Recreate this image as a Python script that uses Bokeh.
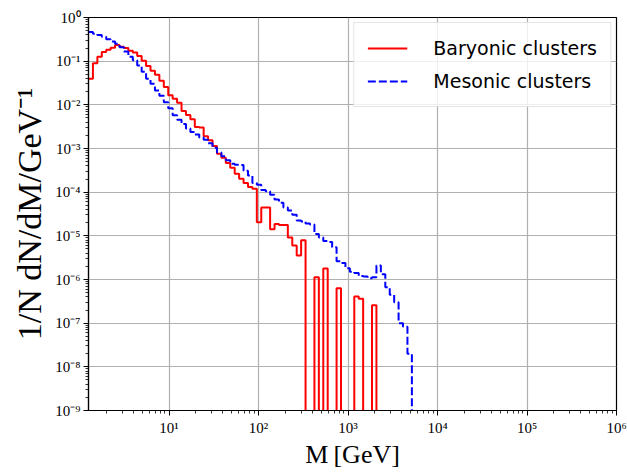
import numpy as np
from bokeh.plotting import figure
from bokeh.models import (Range1d, FixedTicker, CustomJSTickFormatter, Legend, LegendItem)
from bokeh.embed import file_html
from bokeh.resources import INLINE

# ---- histogram binning (log-spaced bins) ----
log_first_edge = 0.1      # log10 of first bin edge [GeV]
log_bin_width = 0.0495    # bin width in log10(M)

# ---- log10(1/N dN/dM) per bin; None = empty bin ----
baryonic_log10 = [
    -1.40, -1.05, -0.90, -0.79, -0.74, -0.69, -0.63, -0.67, -0.70, -0.76,
    -0.80, -0.88, -0.99, -1.11, -1.22, -1.31, -1.45, -1.59, -1.78, -1.86,
    -1.95, -2.14, -2.23, -2.33, -2.51, -2.52, -2.72, -2.81, -2.94, -3.12,
    -3.21, -3.33, -3.44, -3.58, -3.69, -3.79, -3.88, -3.92, -4.69, -4.35,
    -4.35, -4.85, -4.73, -4.75, -4.75, -5.04, -5.22, -5.45, -5.10, None,
    None, -5.95, None, -5.75, None, None, -6.20, None, None, None,
    -6.39, -6.44, None, None, -6.59,
]
mesonic_log10 = [
    -0.33, -0.37, -0.40, -0.44, -0.50, -0.55, -0.60, -0.68, -0.78, -0.90,
    -0.98, -1.10, -1.24, -1.40, -1.52, -1.67, -1.79, -1.94, -2.08, -2.24,
    -2.34, -2.44, -2.54, -2.62, -2.68, -2.75, -2.80, -2.88, -2.98, -3.09,
    -3.18, -3.27, -3.35, -3.37, -3.38, -3.51, -3.62, -3.79, -3.83, -3.95,
    -3.98, -4.06, -4.17, -4.24, -4.35, -4.42, -4.52, -4.65, -4.67, -4.72,
    -4.74, -4.96, -5.04, -5.12, -5.14, -5.26, -5.58, -5.62, -5.74, -5.82,
    -5.85, -5.92, -5.93, -5.97, -5.95, -5.68, -5.88, -6.18, -6.35, -6.52,
    -7.00, -7.08, -7.70,
]
series_labels = ["Baryonic clusters", "Mesonic clusters"]

# ---- axes ----
x_limits = (10 ** 0.1, 1e6)
y_limits = (1e-9, 1e0)
x_tick_exponents = [1, 2, 3, 4, 5, 6]
x_tick_labels = ["10\u00b9", "10\u00b2", "10\u00b3", "10\u2074", "10\u2075", "10\u2076"]
y_tick_exponents = [-9, -8, -7, -6, -5, -4, -3, -2, -1, 0]
y_tick_labels = ["10\u207b\u2079", "10\u207b\u2078", "10\u207b\u2077", "10\u207b\u2076",
                 "10\u207b\u2075", "10\u207b\u2074", "10\u207b\u00b3", "10\u207b\u00b2",
                 "10\u207b\u00b9", "10\u2070"]
x_label = "M\u2009[GeV]"
y_label = "1/N dN/dM/GeV\u207b\u00b9"

FLOOR = 1e-14  # where empty bins are drawn (below the visible range)


def step_outline(log_vals):
    n = len(log_vals)
    edges = 10 ** (log_first_edge + log_bin_width * np.arange(n + 1))
    vals = [FLOOR if v is None else 10 ** v for v in log_vals]
    xs, ys = [], []
    for i in range(n):
        xs += [float(edges[i]), float(edges[i + 1])]
        ys += [vals[i], vals[i]]
    xs.append(float(edges[n]))
    ys.append(FLOOR)
    return xs, ys


p = figure(width=627, height=472, x_axis_type="log", y_axis_type="log",
           x_range=Range1d(*x_limits), y_range=Range1d(*y_limits),
           output_backend="svg", toolbar_location=None,
           min_border_left=88, min_border_right=11, min_border_top=17, min_border_bottom=62)
p.background_fill_color = "white"
p.border_fill_color = "white"
p.outline_line_color = "black"
p.outline_line_width = 1.2
p.outline_line_alpha = 1.0

bx, by = step_outline(baryonic_log10)
mx, my = step_outline(mesonic_log10)
r_bar = p.line(bx, by, line_color="#ff0000", line_width=2.0)
r_mes = p.line(mx, my, line_color="#0000ff", line_width=2.0, line_dash="8 3")

# ticks
x_major = [10.0 ** e for e in x_tick_exponents]
x_minor = [m * 10.0 ** e for e in range(0, 6) for m in range(2, 10)]
y_major = [10.0 ** e for e in y_tick_exponents]
y_minor = [m * 10.0 ** e for e in range(-9, 0) for m in range(2, 10)]
p.xaxis.ticker = FixedTicker(ticks=x_major, minor_ticks=x_minor)
p.yaxis.ticker = FixedTicker(ticks=y_major, minor_ticks=y_minor)
p.xgrid.ticker = FixedTicker(ticks=x_major)
p.ygrid.ticker = FixedTicker(ticks=y_major)

fmt_code = """
let best = 0, bd = Infinity;
for (let i = 0; i < tick_vals.length; i++) {
  const d = Math.abs(Math.log10(tick) - Math.log10(tick_vals[i]));
  if (d < bd) { bd = d; best = i; }
}
return tick_text[best];
"""
p.xaxis.formatter = CustomJSTickFormatter(args=dict(tick_vals=x_major, tick_text=x_tick_labels), code=fmt_code)
p.yaxis.formatter = CustomJSTickFormatter(args=dict(tick_vals=y_major, tick_text=y_tick_labels), code=fmt_code)

for ax in (p.xaxis[0], p.yaxis[0]):
    ax.axis_line_color = "black"
    ax.axis_line_width = 1.2
    ax.major_tick_in = 0
    ax.major_tick_out = 5
    ax.minor_tick_in = 0
    ax.minor_tick_out = 3
    ax.major_tick_line_color = "black"
    ax.minor_tick_line_color = "black"
    ax.major_tick_line_width = 1
    ax.minor_tick_line_width = 0.8
    ax.major_label_text_font = "Liberation Serif"
    ax.major_label_text_font_size = "15px"
    ax.major_label_text_color = "black"
    ax.axis_label_text_font = "Liberation Serif"
    ax.axis_label_text_font_style = "normal"
    ax.axis_label_text_color = "black"

p.xaxis.axis_label = x_label
p.yaxis.axis_label = y_label
p.xaxis.axis_label_text_font_size = "26px"
p.yaxis.axis_label_text_font_size = "34px"
p.xaxis.major_label_standoff = 4
p.yaxis.major_label_standoff = 3
p.xaxis.axis_label_standoff = 1
p.yaxis.axis_label_standoff = 4

p.grid.grid_line_color = "#b0b0b0"
p.grid.grid_line_width = 1.2

legend = Legend(items=[LegendItem(label=series_labels[0], renderers=[r_bar]),
                       LegendItem(label=series_labels[1], renderers=[r_mes])],
                location="top_right")
legend.label_text_font = "DejaVu Sans"
legend.label_text_font_size = "19px"
legend.label_text_color = "black"
legend.glyph_width = 40
legend.glyph_height = 24
legend.label_height = 24
legend.label_standoff = 26
legend.spacing = 9
legend.padding = 13
legend.margin = 5
legend.border_line_color = "#cccccc"
legend.border_line_width = 1
legend.background_fill_alpha = 0.8
p.add_layout(legend)

open("out.html", "w").write(file_html(p, INLINE))
